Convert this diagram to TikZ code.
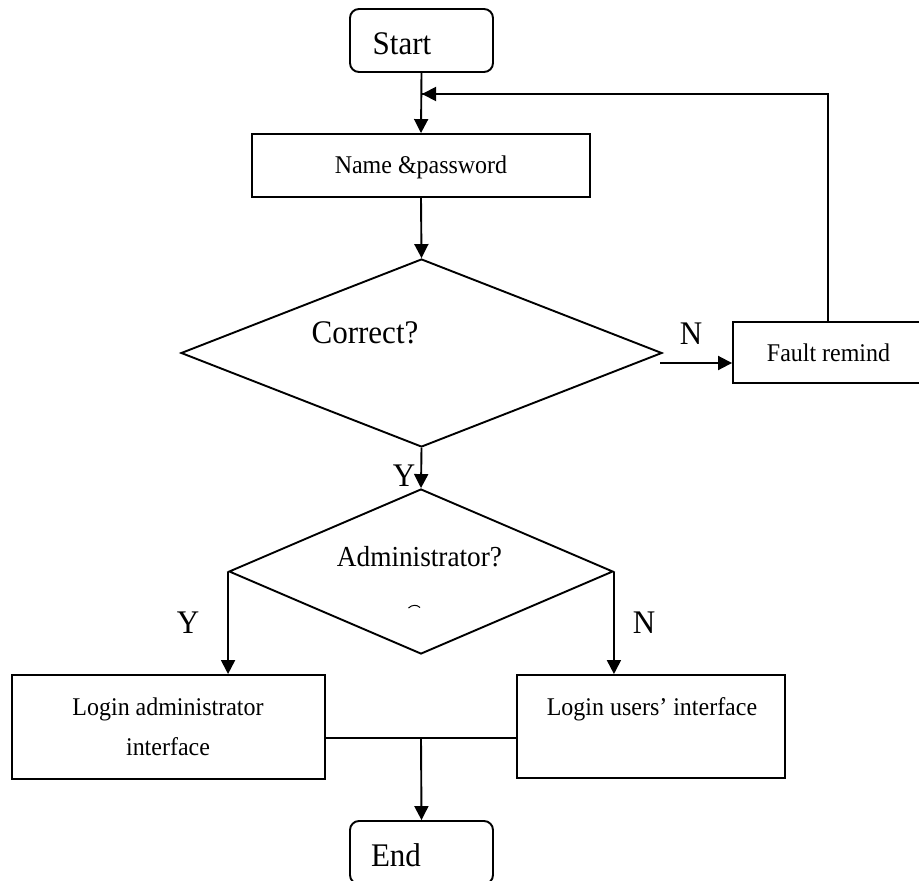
\documentclass[tikz,border=0pt]{standalone}
\usepackage{fontspec}
\setmainfont{Liberation Serif}[FakeStretch=0.94]
\usetikzlibrary{shapes.geometric,arrows.meta}

\tikzset{
  line/.style={line width=1.9pt},
  arr/.style={line, -{Triangle[length=14pt,width=14pt]}},
  termbox/.style={draw, line width=1.9pt, rounded corners=9pt, inner sep=0pt},
  procbox/.style={draw, line width=1.9pt, inner sep=0pt},
  decbox/.style={draw, diamond, line width=1.9pt, inner sep=0pt},
  bigtxt/.style={font=\fontsize{33}{40}\selectfont, inner sep=0pt},
  midtxt/.style={font=\fontsize{29}{36}\selectfont, inner sep=0pt},
  smalltxt/.style={font=\fontsize{25.5}{40}\selectfont, inner sep=0pt, align=center},
}

\begin{document}
\begin{tikzpicture}[x=1pt,y=-1pt]
  \useasboundingbox (0,0) rectangle (919,881);

  % terminals, processes and decisions
  \node[termbox, minimum width=143pt, minimum height=63pt] (start) at (421.5,40.5) {};
  \node[procbox, minimum width=338pt, minimum height=63pt] (name) at (421,165.5) {};
  \node[decbox, minimum width=481pt, minimum height=188pt] (d1) at (421.5,353) {};
  \node[procbox, minimum width=190pt, minimum height=61pt] (fault) at (828,352.5) {};
  \node[decbox, minimum width=384pt, minimum height=165pt] (d2) at (421,571.5) {};
  \node[procbox, minimum width=313pt, minimum height=104pt] (adm) at (168.5,727) {};
  \node[procbox, minimum width=268pt, minimum height=103pt] (usr) at (651,726.5) {};
  \node[termbox, minimum width=143pt, minimum height=63pt] (end) at (421.5,852.5) {};

  % texts (the base of a two-line node is its last line)
  \node[bigtxt, anchor=base] (tstart) at (402,54) {Start};
  \node[smalltxt, anchor=base] (tname) at (421,173) {Name \&password};
  \node[bigtxt, anchor=base] (tcorrect) at (365,343) {Correct?};
  \node[smalltxt, anchor=base] (tfault) at (828.5,361) {Fault remind};
  \node[midtxt, anchor=base] (tadm) at (419.5,566) {Administrator?};
  \node[smalltxt, anchor=base] (tladm) at (168,755) {Login administrator\\interface};
  \node[smalltxt, anchor=base] (tlusr) at (652,715) {Login users’ interface};
  \node[bigtxt, anchor=base] (tend) at (396,866) {End};

  % branch labels
  \node[bigtxt] (ln1) at (691,334) {N};
  \node[bigtxt] (ly1) at (404,476) {Y};
  \node[bigtxt] (ly2) at (188,623) {Y};
  \node[bigtxt] (ln2) at (644,623) {N};

  % stray mark under the second decision text
  \draw[line width=1pt] (408.5,608) .. controls (412,604.5) and (417,604.5) .. (420,607.5);

  % connectors
  \coordinate (back) at (421,94);
  \coordinate (nout) at (660,363);
  \coordinate (merge) at (421,738);

  \draw[arr] (start.south) -- (name.north);
  \draw[line] (fault.north) |- (back);
  \draw[arr] (fault.north |- back) -- ([xshift=1pt]back);
  \draw[arr] (name.south) -- (d1.north);
  \draw[arr] (nout) -- (nout -| fault.west);
  \draw[arr] (d1.south) -- (d2.north);
  \draw[arr] (d2.west) -- (d2.west |- adm.north);
  \draw[arr] (d2.east) -- (d2.east |- usr.north);
  \draw[line] (adm.east |- merge) -- (usr.west |- merge);
  \draw[arr] (merge) -- (end.north);
\end{tikzpicture}
\end{document}
